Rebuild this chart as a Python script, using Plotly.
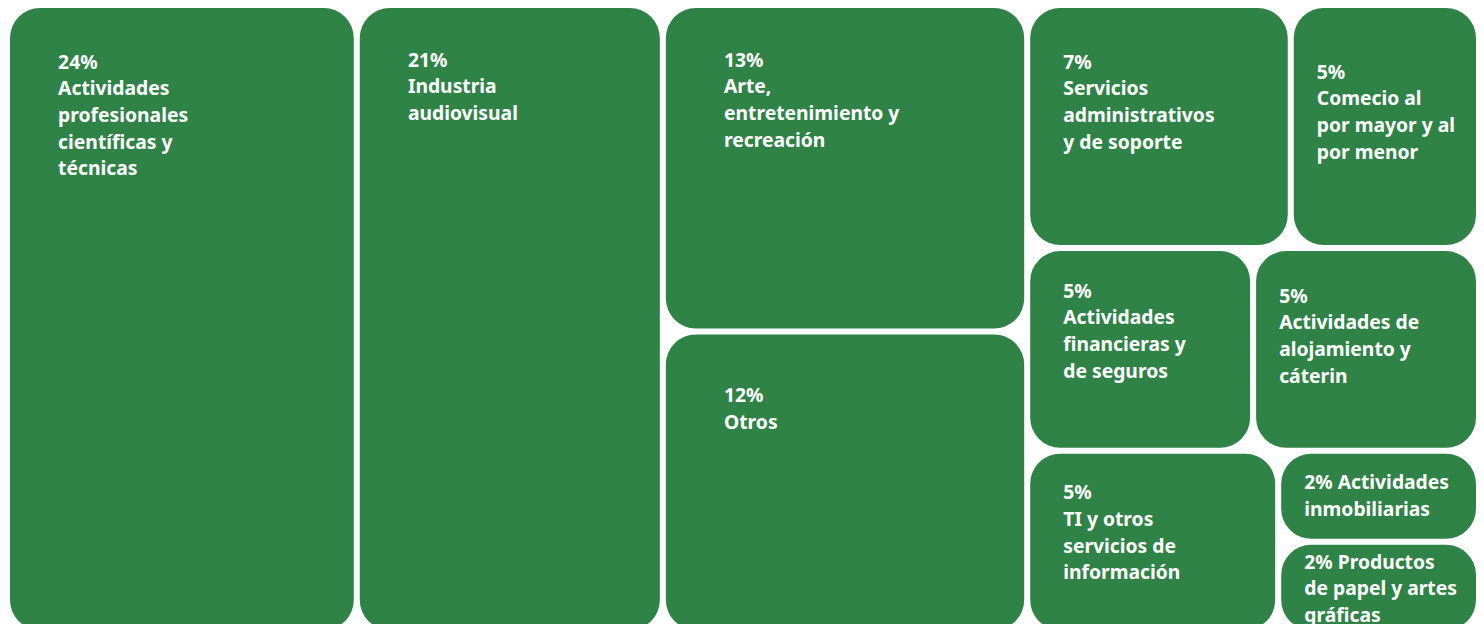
import plotly.graph_objects as go

# ---- data ----
categories = [
    "Actividades<br>profesionales<br>científicas y<br>técnicas",
    "Industria<br>audiovisual",
    "Arte,<br>entretenimiento y<br>recreación",
    "Otros",
    "Servicios<br>administrativos<br>y de soporte",
    "Comecio al<br>por mayor y al<br>por menor",
    "Actividades<br>financieras y<br>de seguros",
    "Actividades de<br>alojamiento y<br>cáterin",
    "TI y otros<br>servicios de<br>información",
    "Actividades<br>inmobiliarias",
    "Productos<br>de papel y artes<br>gráficas",
]
values = [24, 21, 13, 12, 7, 5, 5, 5, 5, 2, 2]
pct_labels = ["24%", "21%", "13%", "12%", "7%", "5%", "5%", "5%", "5%", "2%", "2%"]

# grouping of the tiles (layout structure), listed in drawing order
# entries: (id, parent, leaf index or None)
structure = [
    ("root", "", None),
    ("leaf0", "root", 0),
    ("leaf1", "root", 1),
    ("A", "root", None),
    ("leaf2", "A", 2),
    ("leaf3", "A", 3),
    ("B", "root", None),
    ("B1", "B", None),
    ("leaf4", "B1", 4),
    ("leaf5", "B1", 5),
    ("B2", "B", None),
    ("leaf6", "B2", 6),
    ("leaf7", "B2", 7),
    ("B3", "B", None),
    ("leaf8", "B3", 8),
    ("C", "B3", None),
    ("leaf9", "C", 9),
    ("leaf10", "C", 10),
]
inline_pct = [False] * 9 + [True, True]

# ---- text styling (padding inside each tile) ----
left_pad = [50, 50, 56, 56, 33, 25, 33, 23, 33, 23, 23]   # px
top_pad = [47, 45, 45, 54, 47, 57, 33, 38, 32, 22, 8]     # px

FS = 19.3
BASE = 20.5  # controls line spacing (1.3 * BASE)
NBSP_W = 0.26 * FS
GREEN = "#2f8347"


def build_text(pct, cat, lp, tp, inline):
    lines = cat.split("<br>")
    if inline:
        lines[0] = pct + " " + lines[0]
    else:
        lines = [pct] + lines
    n = max(0, round((lp - 3) / NBSP_W))
    ind = "&nbsp;" * n
    body = "<br>".join(f"<span style='font-size:{FS}px'>{ind}{ln}</span>" for ln in lines)
    spacer_size = (tp - 3 - 13.1) / 1.069
    if spacer_size < 1:
        return body
    spacer = f"<span style='font-size:{spacer_size:.1f}px;color:rgba(0,0,0,0)'>.</span>"
    return spacer + "<br>" + body


ids, parents, vals, texts, colors = [], [], [], [], []
for node_id, parent, idx in structure:
    ids.append(node_id)
    parents.append(parent)
    if idx is None:
        vals.append(0)
        texts.append("")
        colors.append("rgba(0,0,0,0)")
    else:
        vals.append(values[idx])
        texts.append(build_text(pct_labels[idx], categories[idx], left_pad[idx],
                                top_pad[idx], inline_pct[idx]))
        colors.append(GREEN)

fig = go.Figure(go.Treemap(
    ids=ids,
    labels=[""] * len(ids),
    parents=parents,
    values=vals,
    branchvalues="remainder",
    text=texts,
    texttemplate="%{text}",
    textposition="top left",
    sort=False,
    marker=dict(colors=colors, line=dict(width=0), cornerradius=30,
                pad=dict(t=0, l=0, r=0, b=0)),
    textfont=dict(family="Noto Sans", size=BASE, color="white", weight="bold"),
    tiling=dict(packing="slice-dice", pad=6),
    pathbar=dict(visible=False),
    hoverinfo="skip",
))
fig.update_layout(
    width=1484, height=632,
    margin=dict(l=10, r=8, t=8, b=2),
    paper_bgcolor="white",
    uniformtext=dict(minsize=BASE, mode="show"),
)
fig.write_html("out.html")
